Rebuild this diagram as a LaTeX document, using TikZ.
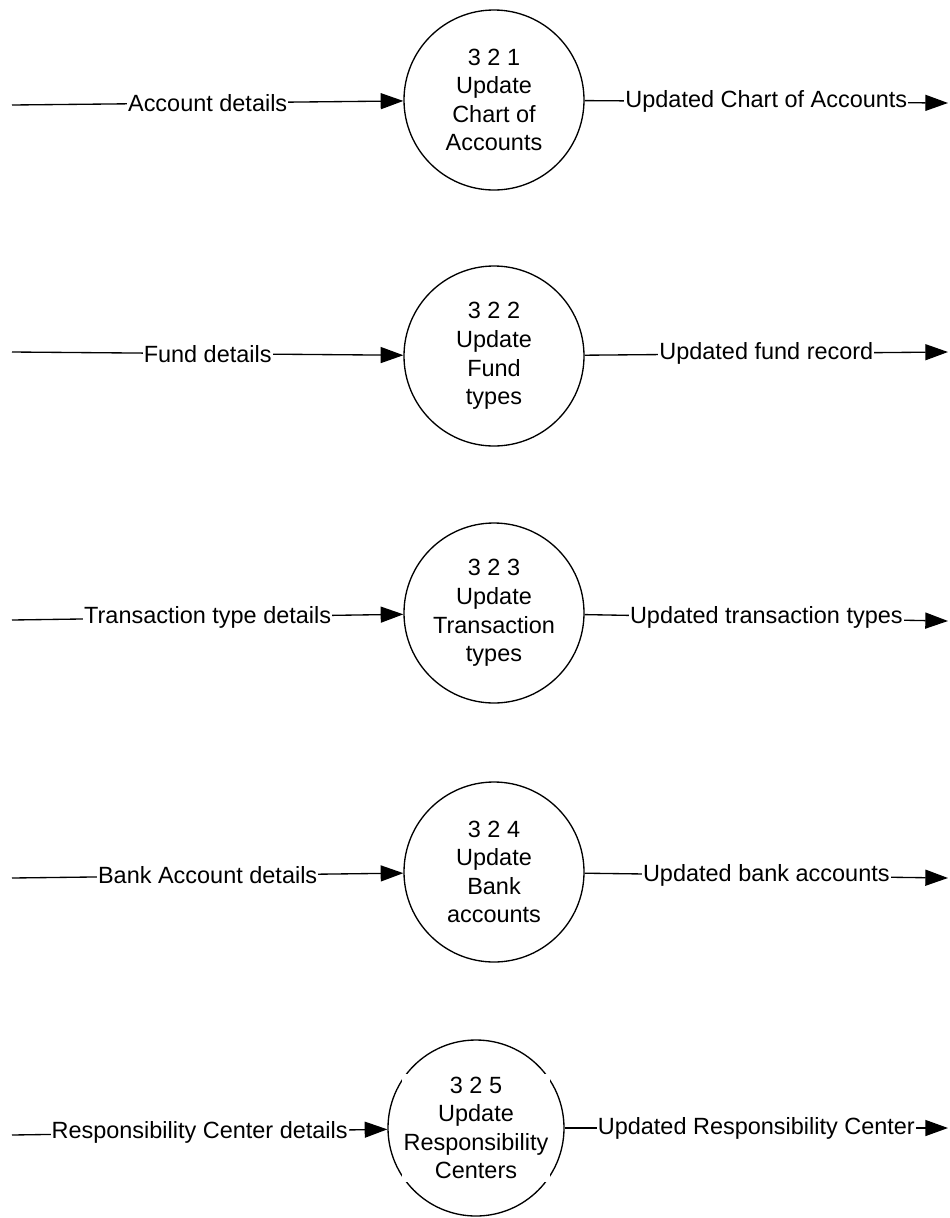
\documentclass[tikz,border=0pt]{standalone}
\usepackage{fontspec}
\setmainfont{Liberation Sans}
\usetikzlibrary{arrows.meta}

\begin{document}
\begin{tikzpicture}[x=0.75pt, y=-0.75pt,
	process/.style={draw, circle, line width=1pt, minimum size=135pt, inner sep=0pt, align=center, font=\fontsize{17.6}{21.4}\selectfont},
	flow/.style={line width=1pt, -{Triangle[length=17pt, width=12pt]}},
	flowlabel/.style={midway, fill=white, inner sep=0.8pt, font=\fontsize{17.6}{21.4}\selectfont}]
	\useasboundingbox (0,0) rectangle (950,1218);
	\node[process] (p1) at (494,100) {3 2 1\\Update\\Chart of\\Accounts};
	\node[process] (p2) at (494,356) {3 2 2\\Update\\Fund\\types};
	\node[process] (p3) at (494,613) {3 2 3\\Update\\Transaction\\types};
	\node[process] (p4) at (494,872) {3 2 4\\Update\\Bank\\accounts};
	\node[process, minimum size=132pt] (p5) at (476,1128) {};
	\node[fill=white, inner xsep=1pt, inner ysep=2.5pt, align=center, font=\fontsize{17.6}{21.4}\selectfont] (p5text) at (p5) {3 2 5\\Update\\Responsibility\\Centers};
	\coordinate (in1) at (12,105);
	\coordinate (in2) at (12,352);
	\coordinate (in3) at (12,620);
	\coordinate (in4) at (12,878);
	\coordinate (in5) at (12,1135);
	\coordinate (out1) at (948,103);
	\coordinate (out2) at (948,352);
	\coordinate (out3) at (948,621);
	\coordinate (out4) at (948,878);
	\coordinate (out5) at (948,1128);
	\draw[flow] (in1) -- (p1) node[flowlabel] {Account details};
	\draw[flow] (p1) -- (out1) node[flowlabel] {Updated Chart of Accounts};
	\draw[flow] (in2) -- (p2) node[flowlabel] {Fund details};
	\draw[flow] (p2) -- (out2) node[flowlabel] {Updated fund record};
	\draw[flow] (in3) -- (p3) node[flowlabel] {Transaction type details};
	\draw[flow] (p3) -- (out3) node[flowlabel] {Updated transaction types};
	\draw[flow] (in4) -- (p4) node[flowlabel] {Bank Account details};
	\draw[flow] (p4) -- (out4) node[flowlabel] {Updated bank accounts};
	\draw[flow] (in5) -- (p5) node[flowlabel] {Responsibility Center details};
	\draw[flow] (p5) -- (out5) node[flowlabel] {Updated Responsibility Center};
\end{tikzpicture}
\end{document}
